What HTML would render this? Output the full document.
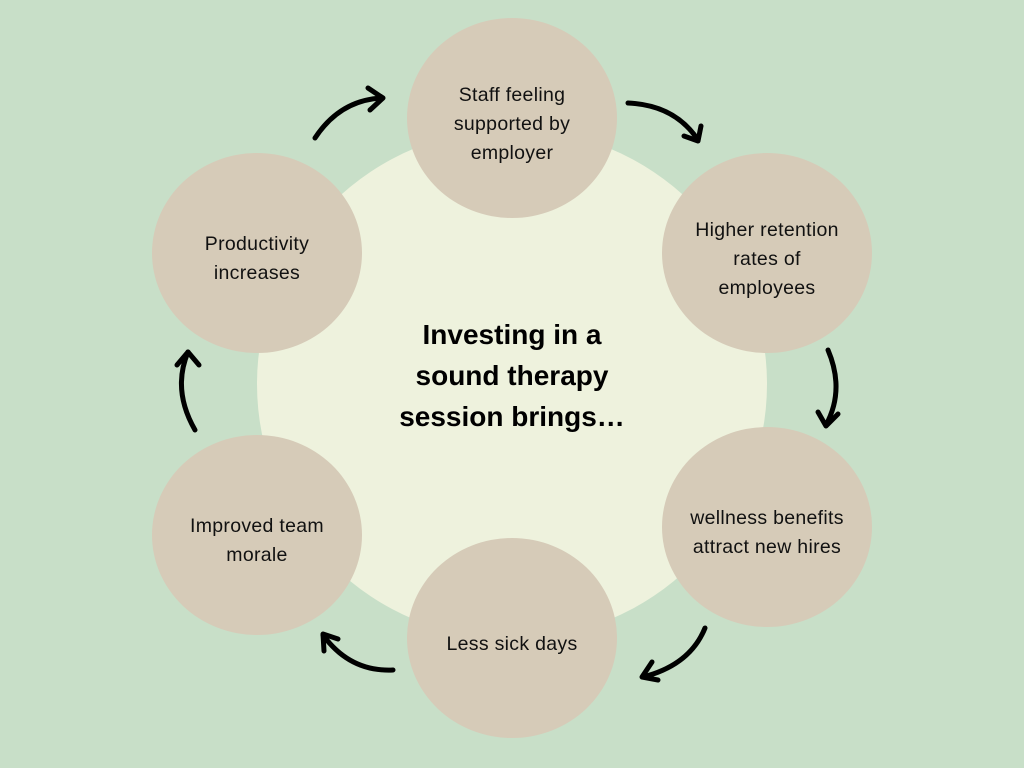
<!DOCTYPE html>
<html><head><meta charset="utf-8"><style>
body{margin:0;width:1024px;height:768px;background:#c8dfc8;position:relative;overflow:hidden;font-family:"Liberation Sans","DejaVu Sans",sans-serif}
.c{position:absolute;border-radius:50%;background:#d6cbb8;display:flex;align-items:center;justify-content:center;text-align:center;font-size:19.5px;line-height:29px;color:#111;letter-spacing:0.3px;box-sizing:border-box;padding-top:12px}
#big{position:absolute;left:257px;top:129px;width:510px;height:510px;border-radius:50%;background:#eef2dd}
#t{position:absolute;left:312px;top:314px;width:400px;text-align:center;font-weight:bold;font-size:28px;line-height:41px;color:#000}
svg{position:absolute;left:0;top:0}
</style></head><body>
<div id="big"></div>
<div id="t">Investing in a<br>sound therapy<br>session brings…</div>
<div class="c" style="left:407px;top:18px;width:210px;height:200px">Staff feeling<br>supported by<br>employer</div>
<div class="c" style="left:662px;top:153px;width:210px;height:200px">Higher retention<br>rates of<br>employees</div>
<div class="c" style="left:662px;top:427px;width:210px;height:200px">wellness benefits<br>attract new hires</div>
<div class="c" style="left:407px;top:538px;width:210px;height:200px">Less sick days</div>
<div class="c" style="left:152px;top:435px;width:210px;height:200px">Improved team<br>morale</div>
<div class="c" style="left:152px;top:153px;width:210px;height:200px">Productivity<br>increases</div>
<svg width="1024" height="768" fill="none" stroke="#000" stroke-width="5" stroke-linecap="round" stroke-linejoin="round">
<path d="M315 138 Q340 100 382 98"/><path d="M368 88 L383 98 L370 110"/>
<path d="M628 103 Q675 105 698 140"/><path d="M684 136 L698 141 L701 126"/>
<path d="M828 350 Q845 390 826 425"/><path d="M818 412 L826 426 L838 414"/>
<path d="M705 628 Q690 665 643 677"/><path d="M652 662 L642 677 L658 680"/>
<path d="M393 670 Q350 672 323 635"/><path d="M324 651 L323 634 L338 639"/>
<path d="M195 430 Q172 390 188 352"/><path d="M177 365 L188 352 L199 365"/>
</svg>
</body></html>
